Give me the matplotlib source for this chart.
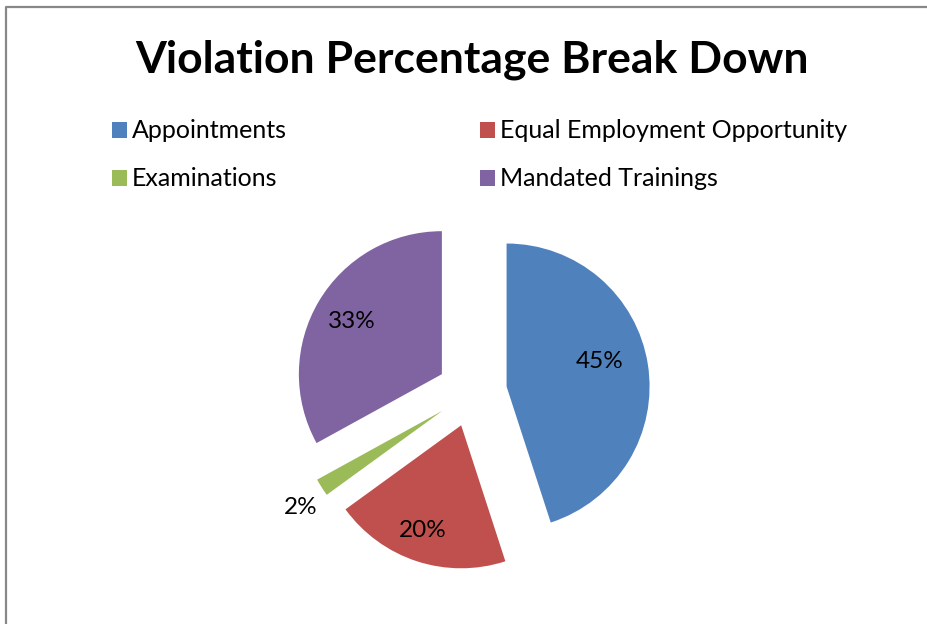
import matplotlib
matplotlib.use("Agg")
from matplotlib import pyplot as plt
from matplotlib.lines import Line2D
from matplotlib.patches import Patch
import numpy as np

# data
categories = ["Appointments", "Equal Employment Opportunity", "Examinations", "Mandated Trainings"]
shares = [45, 20, 2, 33]
colors = ["#4F81BD", "#C0504D", "#9BBB59", "#8064A2"]
title = "Violation Percentage Break Down"

W, H = 928, 624
fig = plt.figure(figsize=(W / 100, H / 100), dpi=100)
ax = fig.add_axes([0, 0, 1, 1])

# pie in pixel space (y up); explode is absolute, in pixels here
cx, cy, r = 472, H - 392, 143
wedges, texts, autotexts = ax.pie(shares,
                                  colors=colors,
                                  startangle=90,
                                  counterclock=False,
                                  explode=[35] * 4,
                                  center=(cx, cy),
                                  radius=r,
                                  autopct="%d%%",
                                  pctdistance=0.7,
                                  wedgeprops={"linewidth": 0},
                                  textprops={"fontsize": 17.5, "family": "Lato", "color": "black"},
                                  frame=True)
ax.set_xlim(0, W)
ax.set_ylim(0, H)
ax.set_aspect("equal")
ax.axis("off")

# move percentage labels (distance as fraction of radius, small angle tweak)
label_dist = [0.67, 0.78, 1.2, 0.73]
label_turn = [6, -2, 2, 0]
for w, t, d, a in zip(wedges, autotexts, label_dist, label_turn):
    mid = np.deg2rad((w.theta1 + w.theta2) / 2 + a)
    x0, y0 = w.center
    t.set_position((x0 + d * r * np.cos(mid), y0 + d * r * np.sin(mid)))
    t.set_ha("center")
    t.set_va("center")

# title
fig.text(472 / W, 1 - 60 / H, title, ha="center", va="center",
         fontsize=32, fontweight="bold", family="Lato")

# legend
handles = [Patch(facecolor=c, edgecolor="none") for c in colors]
order = [0, 2, 1, 3]
leg = fig.legend([handles[i] for i in order], [categories[i] for i in order],
                 ncol=2, loc="upper left", bbox_to_anchor=(89 / W, 1 - 97 / H),
                 frameon=False, prop={"family": "Lato", "size": 18},
                 handlelength=0.6, handleheight=0.6, handletextpad=0.2,
                 columnspacing=7.75, labelspacing=1.0)

# chart border (left and top only visible)
fig.add_artist(Line2D([6.5 / W, 6.5 / W, 1], [0, 1 - 7 / H, 1 - 7 / H],
                      transform=fig.transFigure, color="#888888", lw=1.6))

fig.savefig("out.png", dpi=100)
